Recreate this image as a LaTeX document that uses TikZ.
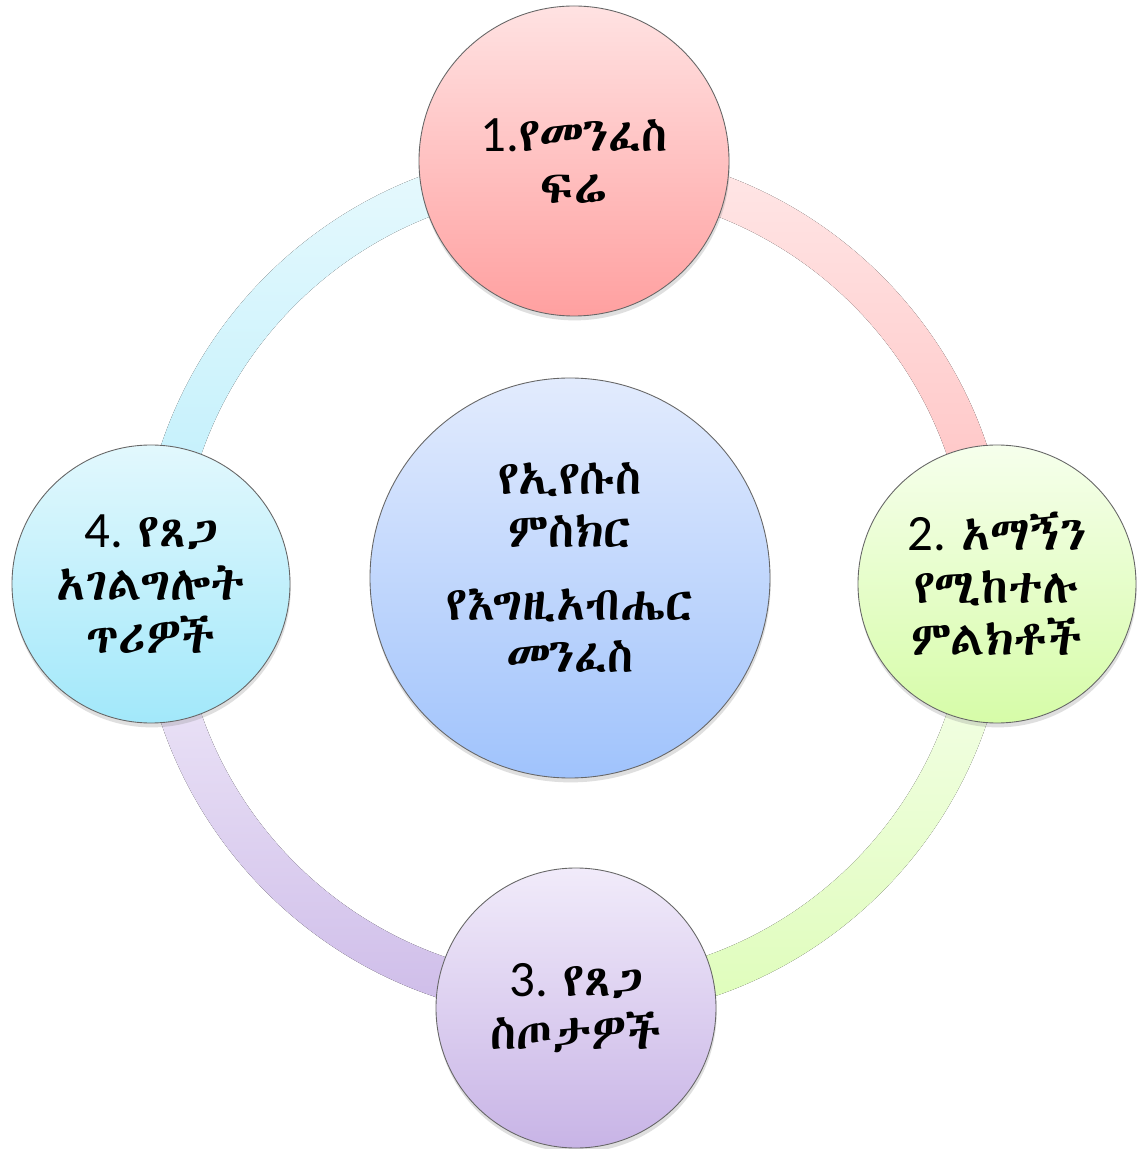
\documentclass[tikz,border=0pt]{standalone}
\usepackage{fontspec}
\IfFontExistsTF{Abyssinica SIL}{\newfontfamily\ethfont{Abyssinica SIL}}{%
  \IfFontExistsTF{FreeSerif}{\newfontfamily\ethfont{FreeSerif}}{%
    \newfontfamily\ethfont{DejaVu Sans}}}
\newfontfamily\numfont{Carlito}
\usetikzlibrary{shadows}

\definecolor{pinkA}{RGB}{255,226,226}
\definecolor{pinkB}{RGB}{255,160,160}
\definecolor{greenA}{RGB}{246,255,236}
\definecolor{greenB}{RGB}{214,252,168}
\definecolor{lilacA}{RGB}{241,235,250}
\definecolor{lilacB}{RGB}{200,180,230}
\definecolor{cyanA}{RGB}{226,248,253}
\definecolor{cyanB}{RGB}{162,232,250}
\definecolor{blueA}{RGB}{226,235,253}
\definecolor{blueB}{RGB}{160,195,252}

\tikzset{
  bubble/.style={circle, draw=black!60, line width=0.5pt, align=center,
    inner sep=0pt, font=\ethfont\fontsize{27}{30}\selectfont,
    drop shadow={shadow xshift=0.4pt, shadow yshift=-2.5pt, opacity=0.25}},
  bow/.style={draw=none}
}

% ring piece from angle #1 to #2
\newcommand{\ringpiece}[3][]{%
  \fill[bow,#1] (#2:8.71) arc[start angle=#2, end angle=#3, radius=8.71]
    -- (#3:7.89) arc[start angle=#3, end angle=#2, radius=7.89] -- cycle;}
\newcommand{\num}[1]{{\numfont\fontsize{29}{30}\selectfont #1}}

\begin{document}
\begin{tikzpicture}

\fill[white] (-11.48,-11.30) rectangle (11.24,11.68);
\useasboundingbox (-11.48,-11.30) rectangle (11.24,11.68);

% ring
\ringpiece[top color=pinkA!80!white, bottom color=pinkB!70!white]{0}{90}
\ringpiece[top color=cyanA!80!white, bottom color=cyanB!75!white]{90}{180}
\ringpiece[top color=lilacA!80!white, bottom color=lilacB!90!white]{180}{270}
\ringpiece[top color=greenA!80!white, bottom color=greenB!80!white]{270}{360}

% circles
\node[bubble, minimum size=8cm, top color=blueA, bottom color=blueB]
  (core) at (-0.08,0.12) {የኢየሱስ\\ምስክር\\[0.4cm]የእግዚአብሔር\\መንፈስ\\[-0.65cm]};

\node[bubble, minimum size=6.2cm, top color=pinkA, bottom color=pinkB]
  (fruit) at (0,8.46) {\num{1.}የመንፈስ\\ፍሬ};
\node[bubble, minimum size=5.56cm, top color=greenA, bottom color=greenB]
  (signs) at (8.46,0) {\num{2. }አማኝን\\የሚከተሉ\\ምልክቶች};
\node[bubble, minimum size=5.6cm, top color=lilacA, bottom color=lilacB]
  (gifts) at (0.04,-8.48) {\num{3. }የጸጋ\\ስጦታዎች};
\node[bubble, minimum size=5.56cm, top color=cyanA, bottom color=cyanB]
  (calls) at (-8.46,0) {\num{4. }የጸጋ\\አገልግሎት\\ጥሪዎች};

\end{tikzpicture}
\end{document}
